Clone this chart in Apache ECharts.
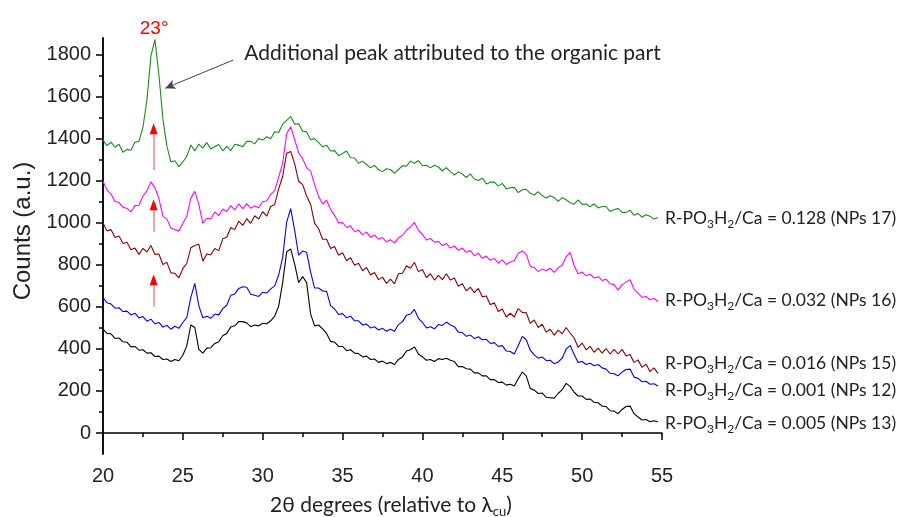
<!DOCTYPE html>
<html><head><meta charset="utf-8">
<script src="https://cdn.jsdelivr.net/npm/echarts@6/dist/echarts.min.js"></script>
<style>html,body{margin:0;padding:0;background:#fff}#c{width:900px;height:517px}</style>
</head><body><div id="c"></div>
<script>
// 2θ sampling grid (degrees), 0.25° steps from 20 to 54.75
const twoTheta = Array.from({length: 140}, (_, i) => 20 + i * 0.25);

const np17 = [1394,1368,1384,1360,1374,1336,1350,1346,1384,1388,1455,1585,1795,1872,1705,1495,1365,1290,1296,1268,
1290,1318,1371,1343,1375,1356,1382,1352,1364,1373,1343,1364,1344,1374,1370,1362,1388,1388,1376,1402,
1394,1410,1400,1434,1430,1470,1488,1506,1470,1472,1436,1433,1396,1401,1382,1362,1370,1342,1344,1320,
1330,1342,1310,1309,1284,1294,1278,1262,1274,1254,1244,1258,1254,1236,1254,1272,1270,1294,1284,1296,
1272,1274,1262,1274,1266,1247,1263,1244,1228,1243,1232,1216,1233,1209,1202,1213,1185,1194,1194,1175,
1188,1162,1167,1169,1144,1158,1160,1141,1133,1148,1130,1118,1129,1121,1102,1120,1110,1096,1089,1109,
1088,1090,1076,1091,1071,1078,1078,1054,1063,1069,1050,1050,1060,1036,1045,1027,1039,1032,1018,1026];

const np16 = [1198,1156,1138,1102,1098,1074,1070,1052,1082,1084,1128,1152,1196,1168,1116,1032,1018,976,968,962,
998,1032,1118,1150,1088,998,1022,1020,1052,1034,1066,1054,1082,1062,1090,1068,1092,1070,1080,1072,
1102,1104,1136,1154,1218,1284,1425,1458,1396,1334,1306,1262,1246,1182,1126,1090,1108,1064,1036,1000,
1002,978,986,958,966,944,956,932,942,922,930,910,920,904,930,940,966,980,1002,964,
946,918,926,908,912,892,902,880,890,870,880,860,868,844,856,832,842,822,830,808,
824,802,814,820,856,866,850,794,788,768,780,772,784,764,786,800,840,860,796,758,
766,748,756,738,744,726,732,710,706,680,706,718,730,684,666,646,650,634,640,626];

const np15 = [1000,962,968,930,938,902,908,872,880,850,878,862,892,850,852,802,812,762,760,738,
782,808,882,892,898,818,852,848,878,868,924,932,978,968,1008,988,1020,998,1034,1018,
1054,1032,1078,1088,1162,1222,1332,1340,1282,1198,1182,1128,1088,998,972,922,922,878,888,846,
858,820,834,798,808,772,788,752,764,730,742,712,732,710,758,760,796,784,812,768,
778,740,758,728,750,730,758,728,738,698,710,676,694,668,688,648,652,610,620,578,
590,552,570,552,592,574,572,522,538,502,518,480,494,466,490,472,502,476,452,408,
428,396,412,384,404,380,402,376,398,376,398,366,374,336,348,312,328,292,310,284];

const np12 = [644,620,614,594,596,578,580,562,570,548,554,532,542,520,526,504,512,494,508,498,
526,550,645,712,606,548,556,546,566,562,592,608,656,662,688,696,694,660,656,650,
670,666,686,700,752,836,1004,1068,964,846,866,860,766,690,690,676,674,606,590,564,
568,548,556,534,534,514,518,500,506,490,498,484,494,484,516,530,560,566,588,546,
526,500,506,496,516,512,528,514,506,480,478,460,466,450,458,444,446,426,430,412,
416,390,388,376,416,460,444,394,372,356,362,344,346,330,338,356,400,416,374,336,
340,326,332,320,326,310,304,284,282,272,290,302,304,266,260,244,246,232,234,224];

const np13 = [494,474,472,450,452,434,432,410,412,394,396,380,382,364,366,350,352,340,350,344,
370,416,514,502,398,380,404,406,426,434,464,474,504,510,530,530,524,506,514,510,
522,520,534,556,604,716,862,876,804,716,744,716,566,510,514,496,474,436,432,412,
412,392,396,380,378,362,366,350,352,336,342,330,336,326,350,362,390,396,410,376,
362,346,350,340,354,350,356,346,340,316,316,306,304,286,286,272,272,254,254,240,
242,228,232,224,258,290,272,212,204,188,190,170,168,166,188,206,236,222,194,176,
176,160,162,146,144,128,126,106,104,92,112,126,128,92,76,62,64,54,58,52];

const seriesData = [np17, np16, np15, np12, np13];
const ratios = ['0.128', '0.032', '0.016', '0.001', '0.005'];
const npNames = ['NPs 17', 'NPs 16', 'NPs 15', 'NPs 12', 'NPs 13'];
const colors = ['#1a8c1a', '#ff00ff', '#8b0000', '#0000ff', '#000000'];
const labelDy = [1, -1, -10, 4, 1];

const yMajorTicks = [0, 200, 400, 600, 800, 1000, 1200, 1400, 1600, 1800];
const yMinorTicks = [100, 300, 500, 700, 900, 1100, 1300, 1500, 1700];

// annotations (data coordinates)
const redArrowX = 23.17;
const redArrowFrom = [1251, 958, 601];
const redArrowBase = [1428, 1064, 707];
const redArrowHead = [1448, 1086, 729];
const blackArrow = [[28.16, 1775], [23.9, 1641]];
const peakText = {text: '23°', at: [23.2, 1925]};
const noteText = {text: 'Additional peak attributed to the organic part', at: [28.85, 1808]};

const chart = echarts.init(document.getElementById('c'), null, {renderer: 'canvas'});
const lineFont = 'Lato, "Open Sans", sans-serif';
const axisFont = '"Liberation Sans", Arial, sans-serif';

const series = seriesData.map((d, k) => ({
  type: 'line',
  name: npNames[k],
  data: d.map((v, i) => [twoTheta[i], v]),
  showSymbol: false,
  symbol: 'none',
  lineStyle: {color: colors[k], width: 1.1},
  itemStyle: {color: colors[k]},
  z: 2 + k,
  endLabel: {
    show: true,
    distance: 7,
    offset: [0, labelDy[k]],
    formatter: () => '{a|R-PO}{s|3}{a|H}{s|2}{a|/Ca = ' + ratios[k] + ' (' + npNames[k] + ')}',
    rich: {
      a: {fontFamily: lineFont, fontSize: 17.5, color: '#222', lineHeight: 24},
      s: {fontFamily: lineFont, fontSize: 12, color: '#222', lineHeight: 24, verticalAlign: 'bottom'}
    }
  }
}));

// annotation marks on the green series
series[0].markLine = {
  silent: true, animation: false,
  label: {show: false},
  symbol: ['none', 'none'],
  data: redArrowFrom.map((y0, i) => [
    {coord: [redArrowX, y0], lineStyle: {color: '#f5a3a3', width: 2, type: 'solid'}},
    {coord: [redArrowX, redArrowBase[i]]}
  ]).concat([[
    {coord: blackArrow[0], symbol: 'none', lineStyle: {color: '#444', width: 1, type: 'solid'}},
    {coord: blackArrow[1], symbol: 'arrow', symbolSize: [7, 10]}
  ]])
};
series[0].markPoint = {
  silent: true, animation: false,
  symbol: 'triangle', symbolSize: [8, 11],
  itemStyle: {color: '#ff0000'},
  label: {show: false},
  data: redArrowHead.map(y => ({coord: [redArrowX, y]}))
};

const axisCommon = {
  axisLine: {show: true, lineStyle: {color: '#000', width: 1.5}},
  splitLine: {show: false}
};

chart.setOption({
  animation: false,
  backgroundColor: '#fff',
  grid: {left: 103, right: 238, top: 38, bottom: 63, containLabel: false},
  xAxis: Object.assign({
    type: 'value', min: 20, max: 55, interval: 5,
    axisTick: {show: true, inside: false, length: 7, lineStyle: {color: '#000', width: 1.5}},
    minorTick: {show: true, splitNumber: 2, length: 4, lineStyle: {color: '#000', width: 1.5}},
    axisLabel: {fontFamily: axisFont, fontSize: 20, color: '#222', margin: 12, formatter: v => String(v)}
  }, axisCommon),
  yAxis: [
    Object.assign({
      type: 'value', min: -100, max: 1880, interval: 100,
      axisTick: {show: true, inside: false, length: 7, customValues: yMajorTicks, lineStyle: {color: '#000', width: 1.5}},
      axisLabel: {fontFamily: axisFont, fontSize: 20, color: '#222', margin: 12, customValues: yMajorTicks, formatter: v => String(v)}
    }, axisCommon),
    Object.assign({
      type: 'value', min: -100, max: 1880, interval: 100, position: 'left',
      axisTick: {show: true, inside: false, length: 4, customValues: yMinorTicks, lineStyle: {color: '#000', width: 1.5}},
      axisLabel: {show: false}
    }, axisCommon)
  ],
  series: series
});

const p1 = chart.convertToPixel({xAxisIndex: 0, yAxisIndex: 0}, peakText.at);
const p2 = chart.convertToPixel({xAxisIndex: 0, yAxisIndex: 0}, noteText.at);
chart.setOption({
  graphic: [
    {type: 'text', x: p1[0], y: p1[1], style: {text: peakText.text, fill: '#ff0000', font: '19px "Liberation Sans", Arial, sans-serif', textAlign: 'center', textVerticalAlign: 'middle'}},
    {type: 'text', x: p2[0], y: p2[1], style: {text: noteText.text, fill: '#222', font: '21px ' + lineFont, textAlign: 'left', textVerticalAlign: 'middle'}},
    {type: 'text', x: 23.5, y: 231, rotation: Math.PI / 2, style: {text: 'Counts (a.u.)', fill: '#222', font: '24px "Liberation Sans", Arial, sans-serif', textAlign: 'center', textVerticalAlign: 'middle'}},
    {type: 'text', x: 391, y: 505, style: {
      text: '{a|2θ degrees (relative to λ}{s|cu}{a|)}', textAlign: 'center', textVerticalAlign: 'middle',
      rich: {
        a: {fontFamily: lineFont, fontSize: 21, fill: '#222', lineHeight: 26},
        s: {fontFamily: lineFont, fontSize: 13, fill: '#222', lineHeight: 26, verticalAlign: 'bottom'}
      }
    }}
  ]
});
</script>
</body></html>
